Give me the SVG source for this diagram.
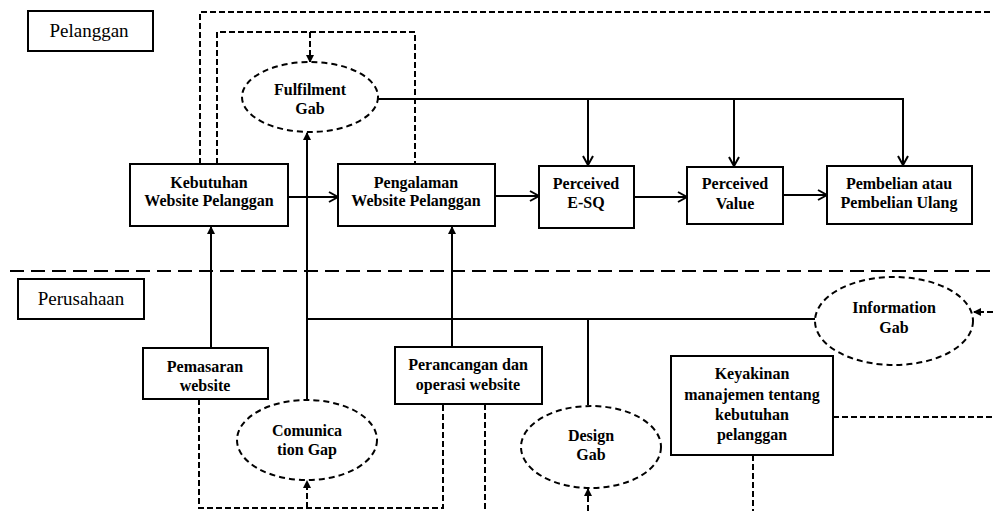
<svg xmlns="http://www.w3.org/2000/svg" width="993" height="511" viewBox="0 0 993 511">
<style>
.box{fill:#fff;stroke:#000;stroke-width:2}
.ell{fill:#fff;stroke:#000;stroke-width:2;stroke-dasharray:6 4}
.t{font-family:"Liberation Serif","Times New Roman",serif;font-weight:bold;font-size:16px;text-anchor:middle;fill:#000}
.lbl{font-family:"Liberation Serif","Times New Roman",serif;font-size:19px;text-anchor:middle;fill:#000}
.sol{fill:none;stroke:#000;stroke-width:2}
.dash{fill:none;stroke:#000;stroke-width:2;stroke-dasharray:6 3}
.sep{fill:none;stroke:#000;stroke-width:2;stroke-dasharray:14 7}
</style>
<defs>
<marker id="open" markerWidth="12" markerHeight="12" refX="10" refY="6" orient="auto" markerUnits="userSpaceOnUse">
<path d="M1,1 L10,6 L1,11" fill="none" stroke="#000" stroke-width="2"/>
</marker>
<marker id="fill" markerWidth="8" markerHeight="8" refX="7" refY="4" orient="auto" markerUnits="userSpaceOnUse">
<path d="M0,0 L8,4 L0,8 Z" fill="#000"/>
</marker>
</defs>
<rect width="993" height="511" fill="#fff"/>
<g id="connectors">
<path class="sep" d="M10,271 H993"/>
<path class="dash" d="M200,164 V12 H993"/>
<path class="dash" d="M217,164 V32 H415 V164"/>
<path class="dash" d="M310,32 V62" marker-end="url(#fill)"/>
<path class="dash" d="M199,399 V508 H443 V404"/>
<path class="dash" d="M307,508 V481" marker-end="url(#fill)"/>
<path class="dash" d="M485,404 V511"/>
<path class="dash" d="M588,511 V489" marker-end="url(#fill)"/>
<path class="dash" d="M753,455 V511"/>
<path class="dash" d="M833,417 H993"/>
<path class="dash" d="M993,312 H974" marker-end="url(#fill)"/>
<path class="sol" d="M288,197 H338" marker-end="url(#open)"/>
<path class="sol" d="M495,196 H539" marker-end="url(#open)"/>
<path class="sol" d="M634,197 H687" marker-end="url(#open)"/>
<path class="sol" d="M783,195 H827" marker-end="url(#open)"/>
<path class="sol" d="M378,99 H903 V165" marker-end="url(#open)"/>
<path class="sol" d="M588,99 V165" marker-end="url(#open)"/>
<path class="sol" d="M734,99 V166" marker-end="url(#open)"/>
<path class="sol" d="M211,348 V227" marker-end="url(#fill)"/>
<path class="sol" d="M452,347 V227" marker-end="url(#fill)"/>
<path class="sol" d="M307,399 V133" marker-end="url(#fill)"/>
<path class="sol" d="M815,319 H307"/>
<path class="sol" d="M588,405 V319"/>
</g>
<g id="pelanggan">
<rect class="box" x="28" y="11" width="125" height="40"/>
<text class="lbl" x="89" y="37">Pelanggan</text>
</g>
<g id="perusahaan">
<rect class="box" x="18" y="279" width="126" height="40"/>
<text class="lbl" x="81" y="305">Perusahaan</text>
</g>
<g id="fulfilment">
<ellipse class="ell" cx="310" cy="97" rx="68" ry="35"/>
<text class="t" x="310" y="95">Fulfilment</text>
<text class="t" x="310" y="114">Gab</text>
</g>
<g id="kebutuhan">
<rect class="box" x="130" y="164" width="158" height="62"/>
<text class="t" x="209" y="188">Kebutuhan</text>
<text class="t" x="209" y="206">Website Pelanggan</text>
</g>
<g id="pengalaman">
<rect class="box" x="338" y="164" width="157" height="62"/>
<text class="t" x="416" y="188">Pengalaman</text>
<text class="t" x="416" y="206">Website Pelanggan</text>
</g>
<g id="esq">
<rect class="box" x="539" y="166" width="95" height="62"/>
<text class="t" x="586" y="189">Perceived</text>
<text class="t" x="586" y="208">E-SQ</text>
</g>
<g id="value">
<rect class="box" x="687" y="167" width="96" height="57"/>
<text class="t" x="735" y="189">Perceived</text>
<text class="t" x="735" y="209">Value</text>
</g>
<g id="pembelian">
<rect class="box" x="827" y="166" width="145" height="58"/>
<text class="t" x="899" y="189">Pembelian atau</text>
<text class="t" x="899" y="208">Pembelian Ulang</text>
</g>
<g id="pemasaran">
<rect class="box" x="143" y="348" width="125" height="51"/>
<text class="t" x="205" y="372">Pemasaran</text>
<text class="t" x="205" y="391">website</text>
</g>
<g id="perancangan">
<rect class="box" x="395" y="347" width="147" height="57"/>
<text class="t" x="468" y="370">Perancangan dan</text>
<text class="t" x="468" y="390">operasi website</text>
</g>
<g id="comunication">
<ellipse class="ell" cx="307" cy="440" rx="70" ry="40"/>
<text class="t" x="307" y="436">Comunica</text>
<text class="t" x="307" y="455">tion Gap</text>
</g>
<g id="design">
<ellipse class="ell" cx="591" cy="447" rx="70" ry="41"/>
<text class="t" x="591" y="441">Design</text>
<text class="t" x="591" y="460">Gab</text>
</g>
<g id="keyakinan">
<rect class="box" x="671" y="356" width="162" height="99"/>
<text class="t" x="752" y="379">Keyakinan</text>
<text class="t" x="752" y="400">manajemen tentang</text>
<text class="t" x="752" y="420">kebutuhan</text>
<text class="t" x="752" y="440">pelanggan</text>
</g>
<g id="information">
<ellipse class="ell" cx="894" cy="321" rx="79" ry="44"/>
<text class="t" x="894" y="313">Information</text>
<text class="t" x="894" y="333">Gab</text>
</g>
</svg>
